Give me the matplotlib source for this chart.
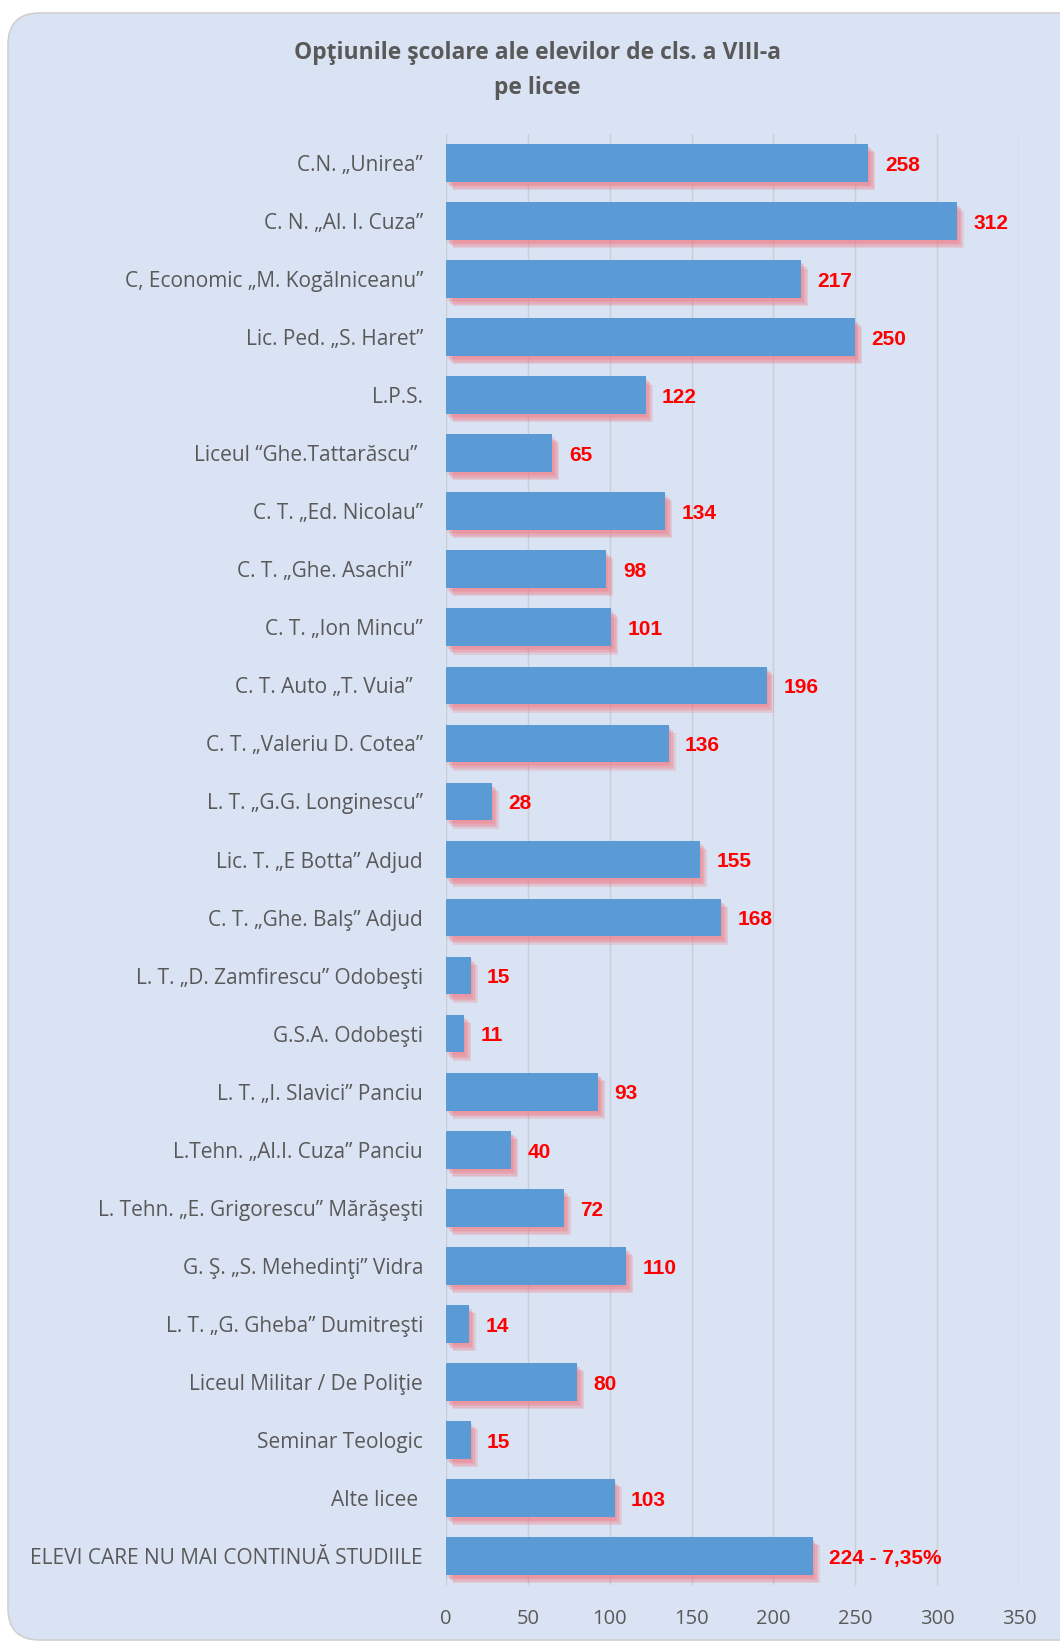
import matplotlib.pyplot as plt
import matplotlib.patheffects as pe
from matplotlib.patches import FancyBboxPatch

# date
licee = [
    "C.N. „Unirea”",
    "C. N. „Al. I. Cuza”",
    "C, Economic „M. Kogălniceanu”",
    "Lic. Ped. „S. Haret”",
    "L.P.S.",
    "Liceul “Ghe.Tattarăscu” ",
    "C. T. „Ed. Nicolau”",
    "C. T. „Ghe. Asachi”  ",
    "C. T. „Ion Mincu”",
    "C. T. Auto „T. Vuia”  ",
    "C. T. „Valeriu D. Cotea”",
    "L. T. „G.G. Longinescu”",
    "Lic. T. „E Botta” Adjud",
    "C. T. „Ghe. Balş” Adjud",
    "L. T. „D. Zamfirescu” Odobeşti",
    "G.S.A. Odobeşti",
    "L. T. „I. Slavici” Panciu",
    "L.Tehn. „Al.I. Cuza” Panciu",
    "L. Tehn. „E. Grigorescu” Mărăşeşti",
    "G. Ş. „S. Mehedinţi” Vidra",
    "L. T. „G. Gheba” Dumitreşti",
    "Liceul Militar / De Poliţie",
    "Seminar Teologic",
    "Alte licee ",
    "ELEVI CARE NU MAI CONTINUĂ STUDIILE",
]
elevi = [258, 312, 217, 250, 122, 65, 134, 98, 101, 196, 136, 28, 155, 168,
         15, 11, 93, 40, 72, 110, 14, 80, 15, 103, 224]
etichete = [str(v) for v in elevi]
etichete[-1] = "224 - 7,35%"
xticks = [0, 50, 100, 150, 200, 250, 300, 350]

fundal = "#dae3f3"
gri = "#595959"

fig = plt.figure(figsize=(10.6, 16.44), dpi=100)
fig.patch.set_facecolor("white")

# panoul cu colturi rotunjite
panou = FancyBboxPatch((8 / 1060, 4 / 1644), 1090 / 1060, 1627 / 1644,
                       boxstyle="round,pad=0,rounding_size=0.03",
                       transform=fig.transFigure, facecolor=fundal,
                       edgecolor="#d0d0d0", linewidth=1.2, zorder=-5,
                       mutation_aspect=1060 / 1644)
fig.patches.append(panou)

fig.text(0.507, 1 - 53 / 1644, "Opţiunile şcolare ale elevilor de cls. a VIII-a",
         ha="center", va="center", fontsize=16.5, fontweight="bold",
         color=gri, family="Open Sans")
fig.text(0.507, 1 - 88 / 1644, "pe licee", ha="center", va="center",
         fontsize=16.5, fontweight="bold", color=gri, family="Open Sans")

ax = fig.add_axes([446 / 1060, 1 - 1585 / 1644, (1019 - 446) / 1060, (1585 - 134) / 1644])
ax.set_facecolor("none")

y = list(range(len(licee)))
bare = ax.barh(y, elevi, height=0.65, color="#5b9bd5", zorder=3)
# umbra roz, estompata
umbra = [pe.SimplePatchShadow(offset=(o, -o - 1), shadow_rgbFace="#f07a85", alpha=0.22)
         for o in (1, 2, 3, 4, 5)]
for b in bare:
    b.set_path_effects(umbra + [pe.Normal()])

for yi, v, t in zip(y, elevi, etichete):
    ax.text(v + 10, yi + 0.04, t, va="center", ha="left", color="#ff0000",
            fontsize=15, fontweight="bold", family="Liberation Sans", zorder=4)

ax.set_xlim(0, 350)
ax.set_ylim(len(licee) - 0.5, -0.5)
ax.set_xticks(xticks)
ax.set_yticks(y)
ax.set_yticklabels(licee, fontsize=15, color=gri, family="Open Sans")
ax.tick_params(axis="x", labelsize=14.5, labelcolor=gri, length=0, pad=17)
ax.tick_params(axis="y", length=0, pad=16.5)
for lbl in ax.get_xticklabels():
    lbl.set_family("Open Sans")

ax.grid(axis="x", color="#c9cdd4", linewidth=1, zorder=0)
ax.axvline(0, color="#c8c0b8", linewidth=1.2, zorder=1)
for s in ax.spines.values():
    s.set_visible(False)

fig.savefig("out.png", dpi=100, facecolor=fig.get_facecolor())
